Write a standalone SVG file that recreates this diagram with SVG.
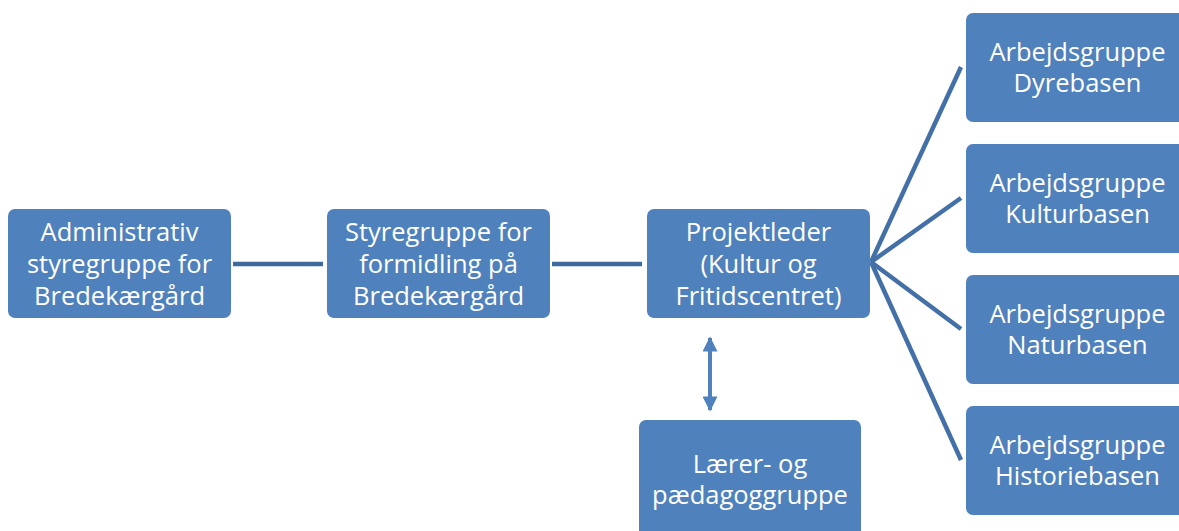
<svg xmlns="http://www.w3.org/2000/svg" width="1179" height="531" viewBox="0 0 1179 531">
<defs>
<style>
.box{fill:#4F81BD;}
.t{fill:#FFFFFF;font-family:"Open Sans","Noto Sans",sans-serif;font-size:25.5px;text-anchor:middle;}
.c{stroke:#4470A8;stroke-width:4.5;fill:none;}
</style>
<marker id="ah" viewBox="0 0 10 10" refX="9" refY="5" markerWidth="16" markerHeight="15" orient="auto-start-reverse" markerUnits="userSpaceOnUse">
<path d="M0,0 L10,5 L0,10 Z" fill="#4F81BD"/>
</marker>
</defs>
<rect width="1179" height="531" fill="#FFFFFF"/>
<g id="connectors">
<line class="c" x1="233" y1="264" x2="323" y2="264" style="stroke:#3E6A9E"/>
<line class="c" x1="552" y1="264" x2="642" y2="264" style="stroke:#3E6A9E"/>
<line class="c" x1="871" y1="262" x2="961" y2="67"/>
<line class="c" x1="871" y1="262" x2="961" y2="198"/>
<line class="c" x1="871" y1="262" x2="961" y2="329"/>
<line class="c" x1="871" y1="262" x2="961" y2="460"/>
<line x1="710" y1="338" x2="710" y2="410" stroke="#4F81BD" stroke-width="4" marker-start="url(#ah)" marker-end="url(#ah)"/>
</g>
<g id="admin">
<rect class="box" x="8" y="209" width="223" height="109" rx="7"/>
<text class="t" x="119.5" y="241">Administrativ</text>
<text class="t" x="119.5" y="273">styregruppe for</text>
<text class="t" x="119.5" y="305">Bredekærgård</text>
</g>
<g id="styregruppe">
<rect class="box" x="327" y="209" width="223" height="109" rx="7"/>
<text class="t" x="438.5" y="241">Styregruppe for</text>
<text class="t" x="438.5" y="273">formidling på</text>
<text class="t" x="438.5" y="305">Bredekærgård</text>
</g>
<g id="projektleder">
<rect class="box" x="647" y="209" width="223" height="109" rx="7"/>
<text class="t" x="758.5" y="241">Projektleder</text>
<text class="t" x="758.5" y="273">(Kultur og</text>
<text class="t" x="758.5" y="305">Fritidscentret)</text>
</g>
<g id="laerer">
<rect class="box" x="639" y="420" width="222" height="120" rx="7"/>
<text class="t" x="750" y="473">Lærer- og</text>
<text class="t" x="750" y="504">pædagoggruppe</text>
</g>
<g id="dyrebasen">
<rect class="box" x="966" y="13" width="223" height="109" rx="7"/>
<text class="t" x="1077.5" y="61">Arbejdsgruppe</text>
<text class="t" x="1077.5" y="92">Dyrebasen</text>
</g>
<g id="kulturbasen">
<rect class="box" x="966" y="144" width="223" height="109" rx="7"/>
<text class="t" x="1077.5" y="192">Arbejdsgruppe</text>
<text class="t" x="1077.5" y="223">Kulturbasen</text>
</g>
<g id="naturbasen">
<rect class="box" x="966" y="275" width="223" height="109" rx="7"/>
<text class="t" x="1077.5" y="323">Arbejdsgruppe</text>
<text class="t" x="1077.5" y="354">Naturbasen</text>
</g>
<g id="historiebasen">
<rect class="box" x="966" y="406" width="223" height="109" rx="7"/>
<text class="t" x="1077.5" y="454">Arbejdsgruppe</text>
<text class="t" x="1077.5" y="485">Historiebasen</text>
</g>
</svg>
